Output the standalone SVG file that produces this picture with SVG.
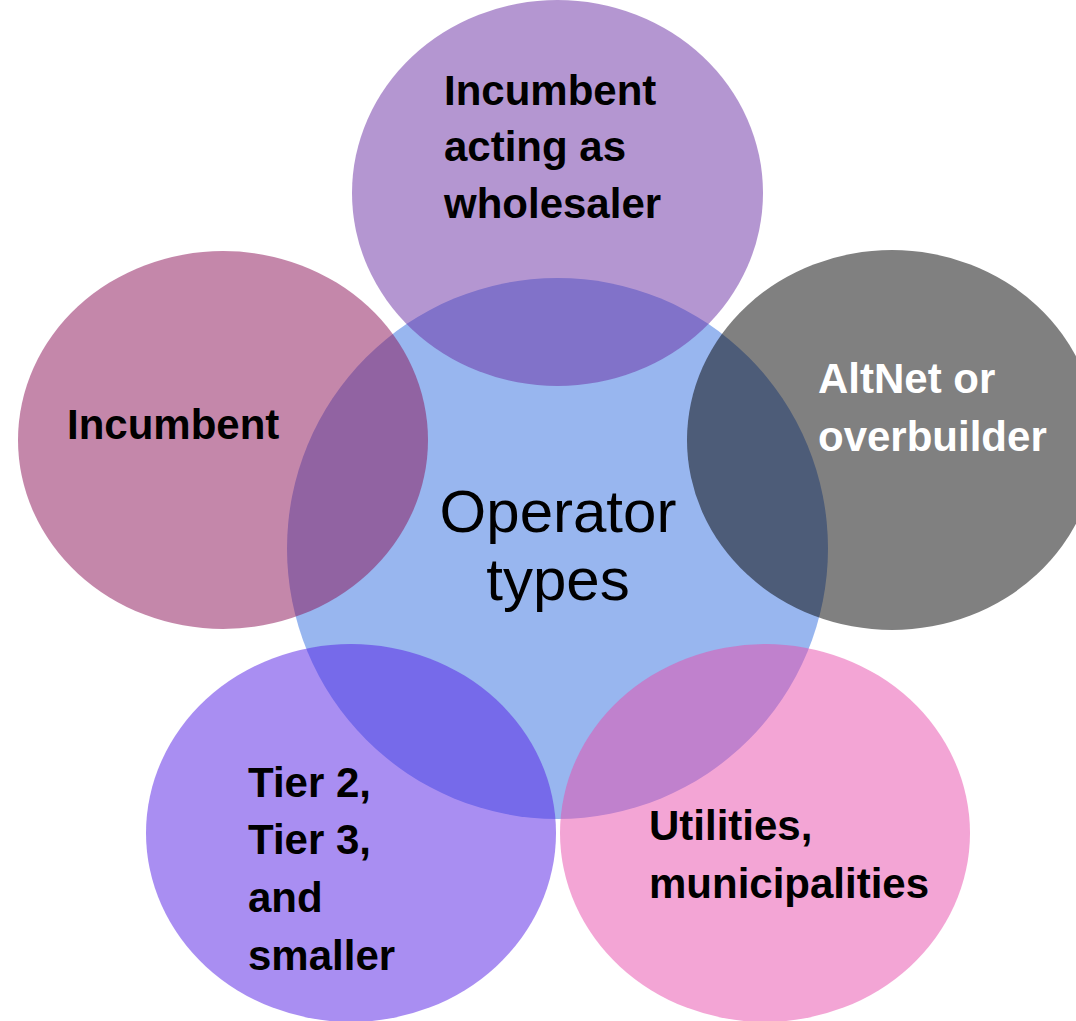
<svg xmlns="http://www.w3.org/2000/svg" width="1076" height="1021" viewBox="0 0 1076 1021">
<style>
.lbl{font-family:"Liberation Sans",Arial,sans-serif;font-weight:bold;font-size:42px;fill:#000}
.wht{fill:#fff}
.ctr{font-family:"Liberation Sans",Arial,sans-serif;font-size:60px;fill:#000;text-anchor:middle}
.outer{fill-opacity:0.5}
</style>
<rect width="1076" height="1021" fill="#fff"/>
<g id="center">
<ellipse cx="557.5" cy="548.5" rx="270.5" ry="270.5" fill="#98B6EF"/>
</g>
<g id="top">
<ellipse class="outer" cx="557.5" cy="193" rx="205.5" ry="193" fill="#692DA3"/>
</g>
<g id="left">
<ellipse class="outer" cx="223" cy="440" rx="205" ry="189" fill="#890F55"/>
</g>
<g id="right">
<ellipse class="outer" cx="892" cy="440" rx="205" ry="190" fill="#010101"/>
</g>
<g id="bottom-left">
<ellipse class="outer" cx="351" cy="833" rx="205" ry="189" fill="#531DE5"/>
</g>
<g id="bottom-right">
<ellipse class="outer" cx="765" cy="833" rx="205" ry="189" fill="#E74BAB"/>
</g>
<g id="labels">
<text class="ctr" x="558" y="532">Operator</text>
<text class="ctr" x="558" y="600">types</text>
<text class="lbl" x="444" y="105">Incumbent</text>
<text class="lbl" x="444" y="161">acting as</text>
<text class="lbl" x="444" y="218">wholesaler</text>
<text class="lbl" x="67" y="439">Incumbent</text>
<text class="lbl wht" x="818" y="393">AltNet or</text>
<text class="lbl wht" x="818" y="451">overbuilder</text>
<text class="lbl" x="248" y="797">Tier 2,</text>
<text class="lbl" x="248" y="854">Tier 3,</text>
<text class="lbl" x="248" y="912">and</text>
<text class="lbl" x="248" y="970">smaller</text>
<text class="lbl" x="649" y="840">Utilities,</text>
<text class="lbl" x="649" y="898">municipalities</text>
</g>
</svg>
